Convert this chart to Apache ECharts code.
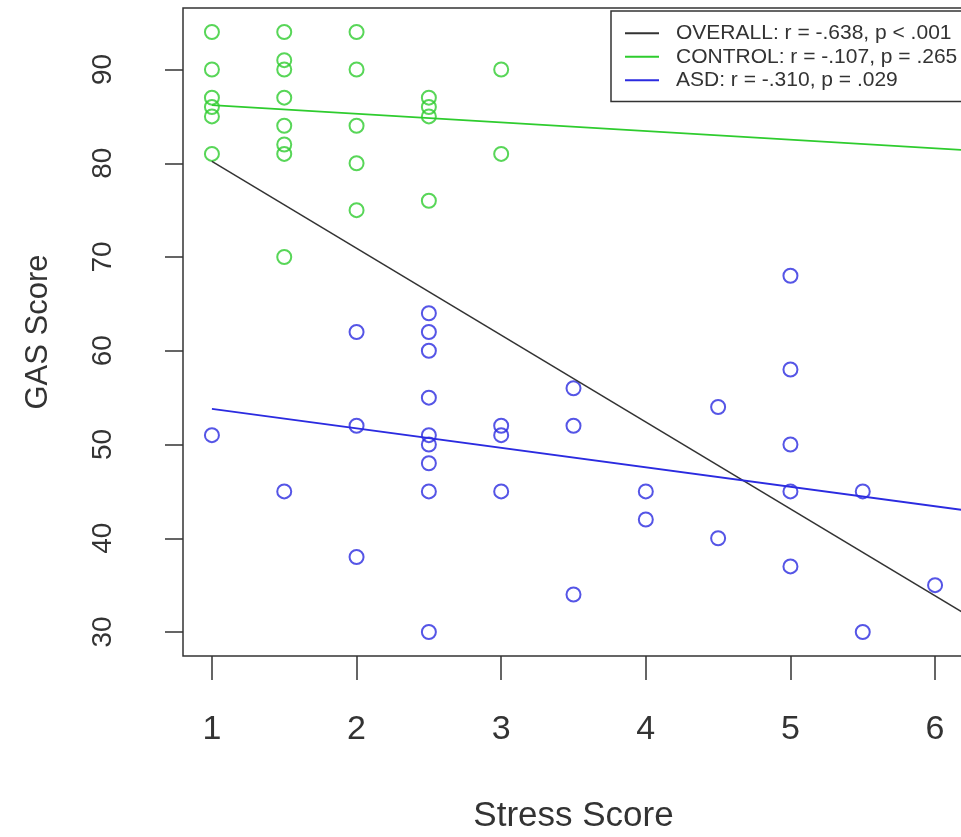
<!DOCTYPE html>
<html>
<head>
<meta charset="utf-8">
<script src="https://cdn.jsdelivr.net/npm/echarts@6/dist/echarts.min.js"></script>
<style>
  html, body { margin: 0; padding: 0; background: #fff; }
  #chart { width: 961px; height: 837px; }
</style>
</head>
<body>
<div id="chart"></div>
<script>
// stress score / GAS score
var controlStress = [1, 1, 1, 1, 1, 1, 1.5, 1.5, 1.5, 1.5, 1.5, 1.5, 1.5, 1.5, 2, 2, 2, 2, 2, 2.5, 2.5, 2.5, 2.5, 3, 3];
var controlGas = [94, 90, 87, 86, 85, 81, 94, 91, 90, 87, 84, 82, 81, 70, 94, 90, 84, 80, 75, 87, 86, 85, 76, 90, 81];
var asdStress = [1, 1.5, 2, 2, 2, 2.5, 2.5, 2.5, 2.5, 2.5, 2.5, 2.5, 2.5, 2.5, 3, 3, 3, 3.5, 3.5, 3.5, 4, 4, 4.5, 4.5, 5, 5, 5, 5, 5, 5.5, 5.5, 6];
var asdGas = [51, 45, 62, 52, 38, 64, 62, 60, 55, 51, 50, 48, 45, 30, 52, 51, 45, 56, 52, 34, 45, 42, 54, 40, 68, 58, 50, 45, 37, 45, 30, 35];

// fitted lines (ends at x = 1 and the right edge)
var fitStress = [1, 6.2];
var overallFit = [80.2, 32.0];
var controlFit = [86.2, 81.4];
var asdFit = [53.8, 43.0];

var legendNames = ['OVERALL: r = -.638, p < .001', 'CONTROL: r = -.107, p = .265', 'ASD: r = -.310, p = .029'];
var xTicks = [1, 2, 3, 4, 5, 6];
var yTicks = [30, 40, 50, 60, 70, 80, 90];

function pairs(xs, ys) {
  return xs.map(function (x, i) { return [x, ys[i]]; });
}

var black = '#333333', green = '#2ecc2e', blue = '#2b2be0';
var font = '"Liberation Sans", Arial, sans-serif';

var chart = echarts.init(document.getElementById('chart'));
var option = {
  animation: false,
  backgroundColor: '#fff',
  grid: {
    left: 183, top: 8, bottom: 181, right: -3,
    containLabel: false, outerBoundsMode: 'none',
    show: true, borderColor: '#333', borderWidth: 1.5, backgroundColor: 'transparent'
  },
  legend: {
    data: legendNames,
    orient: 'vertical',
    left: 611, top: 11,
    padding: [11, 40, 10, 14],
    itemGap: 1,
    itemWidth: 34,
    itemHeight: 2,
    icon: 'rect',
    backgroundColor: '#fff',
    borderColor: '#333',
    borderWidth: 1.5,
    borderRadius: 0,
    textStyle: { fontFamily: font, fontSize: 21, color: '#333', lineHeight: 22.5, padding: [0, 0, 0, 12] }
  },
  xAxis: {
    type: 'value', min: 0.8, max: 6.2,
    name: 'Stress Score', nameLocation: 'middle', nameGap: 143,
    nameTextStyle: { fontFamily: font, fontSize: 35, color: '#333' },
    axisLine: { show: false },
    splitLine: { show: false },
    axisTick: { show: true, length: 24, lineStyle: { color: '#333', width: 1.5 }, customValues: xTicks },
    axisLabel: { fontFamily: font, fontSize: 34, color: '#333', margin: 57, customValues: xTicks }
  },
  yAxis: {
    type: 'value', min: 27.44, max: 96.56,
    name: 'GAS Score', nameLocation: 'middle', nameGap: 129, nameRotate: 90,
    nameTextStyle: { fontFamily: font, fontSize: 31, color: '#333' },
    axisLine: { show: false },
    splitLine: { show: false },
    axisTick: { show: true, length: 18, lineStyle: { color: '#333', width: 1.5 }, customValues: yTicks },
    axisLabel: { fontFamily: font, fontSize: 28, color: '#333', margin: 66, rotate: 90, customValues: yTicks }
  },
  series: [
    {
      type: 'scatter', name: 'control', data: pairs(controlStress, controlGas),
      symbol: 'circle', symbolSize: 14,
      itemStyle: { color: 'transparent', borderColor: green, borderWidth: 2 }
    },
    {
      type: 'scatter', name: 'asd', data: pairs(asdStress, asdGas),
      symbol: 'circle', symbolSize: 14,
      itemStyle: { color: 'transparent', borderColor: blue, borderWidth: 2 }
    },
    {
      type: 'line', name: legendNames[0], data: pairs(fitStress, overallFit),
      showSymbol: false, symbol: 'none', color: black, lineStyle: { color: black, width: 1.5 }
    },
    {
      type: 'line', name: legendNames[1], data: pairs(fitStress, controlFit),
      showSymbol: false, symbol: 'none', color: green, lineStyle: { color: green, width: 1.8 }
    },
    {
      type: 'line', name: legendNames[2], data: pairs(fitStress, asdFit),
      showSymbol: false, symbol: 'none', color: blue, lineStyle: { color: blue, width: 1.8 }
    }
  ]
};
chart.setOption(option);
</script>
</body>
</html>
